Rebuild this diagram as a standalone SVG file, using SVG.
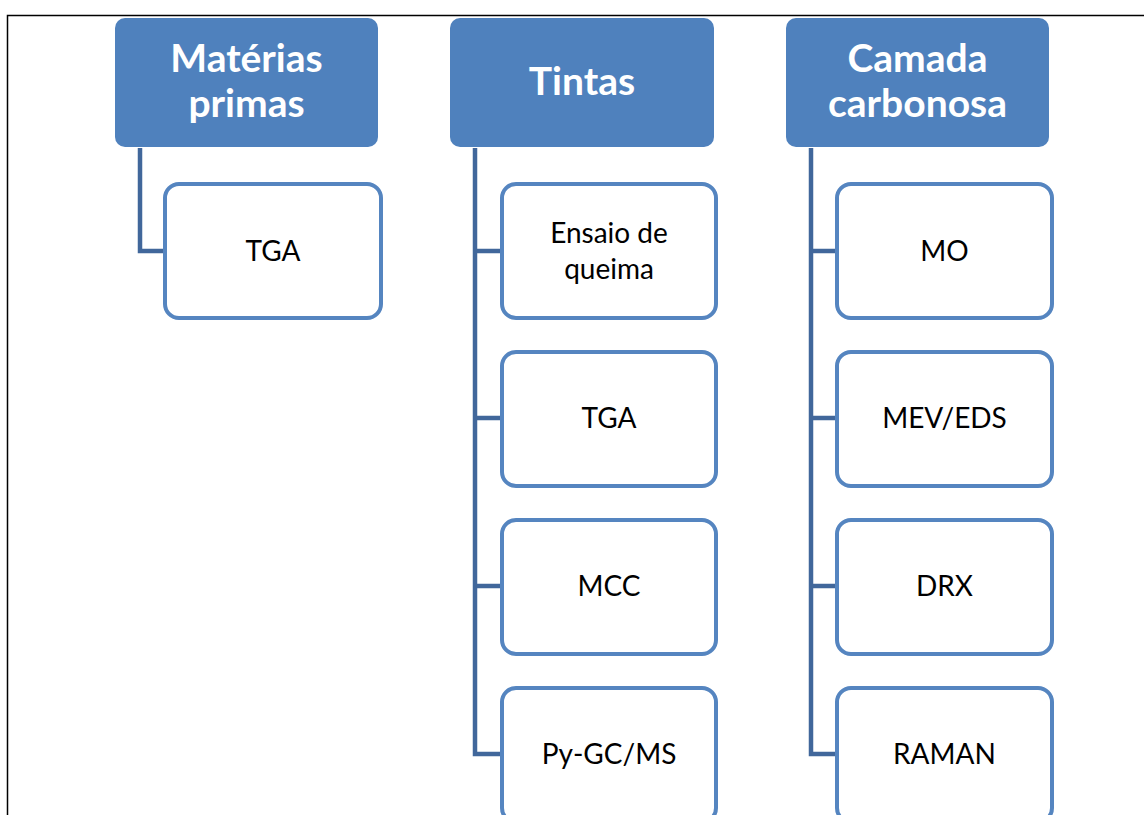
<svg xmlns="http://www.w3.org/2000/svg" width="1144" height="815" viewBox="0 0 1144 815">
<style>
.hdr{fill:#4F81BD;}
.hdr-t{fill:#FFFFFF;font-family:Lato,"Open Sans",sans-serif;font-weight:bold;font-size:39px;text-anchor:middle;}
.box{fill:#FFFFFF;stroke:#5585C0;stroke-width:4;}
.box-t{fill:#000000;font-family:Lato,"Open Sans",sans-serif;font-size:28px;text-anchor:middle;}
.con{fill:none;stroke:#41679B;stroke-width:4.5;}
.frame{fill:none;stroke:#000000;stroke-width:1.5;}
</style>
<path class="frame" d="M7.5 815 V15.5 H1144"/>
<g id="connectors">
<path class="con" d="M140 148 V251 H165"/>
<path class="con" d="M475 148 V754 H502 M475 251 H502 M475 418 H502 M475 586 H502"/>
<path class="con" d="M811 148 V754 H837 M811 251 H837 M811 418 H837 M811 586 H837"/>
</g>
<g id="h1"><rect class="hdr" x="115" y="18" width="263" height="129" rx="10"/><text class="hdr-t" x="246.5" y="72">Matérias</text><text class="hdr-t" x="246.5" y="117">primas</text></g>
<g id="h2"><rect class="hdr" x="450" y="18" width="264" height="129" rx="10"/><text class="hdr-t" x="582" y="95">Tintas</text></g>
<g id="h3"><rect class="hdr" x="786" y="18" width="263" height="129" rx="10"/><text class="hdr-t" x="917.5" y="72">Camada</text><text class="hdr-t" x="917.5" y="117">carbonosa</text></g>
<g id="n1"><rect class="box" x="165" y="184" width="216" height="134" rx="14"/><text class="box-t" x="273" y="261">TGA</text></g>
<g id="n2"><rect class="box" x="502" y="184" width="214" height="134" rx="14"/><text class="box-t" x="609" y="243">Ensaio de</text><text class="box-t" x="609" y="279">queima</text></g>
<g id="n3"><rect class="box" x="502" y="352" width="214" height="134" rx="14"/><text class="box-t" x="609" y="428">TGA</text></g>
<g id="n4"><rect class="box" x="502" y="520" width="214" height="134" rx="14"/><text class="box-t" x="609" y="596">MCC</text></g>
<g id="n5"><rect class="box" x="502" y="688" width="214" height="134" rx="14"/><text class="box-t" x="609" y="764">Py-GC/MS</text></g>
<g id="n6"><rect class="box" x="837" y="184" width="215" height="134" rx="14"/><text class="box-t" x="944.5" y="261">MO</text></g>
<g id="n7"><rect class="box" x="837" y="352" width="215" height="134" rx="14"/><text class="box-t" x="944.5" y="428">MEV/EDS</text></g>
<g id="n8"><rect class="box" x="837" y="520" width="215" height="134" rx="14"/><text class="box-t" x="944.5" y="596">DRX</text></g>
<g id="n9"><rect class="box" x="837" y="688" width="215" height="134" rx="14"/><text class="box-t" x="944.5" y="764">RAMAN</text></g>
</svg>
